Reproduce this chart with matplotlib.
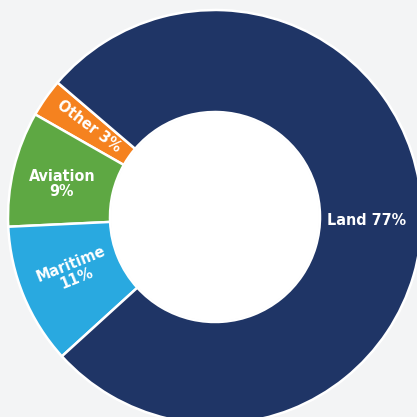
import matplotlib
matplotlib.use("Agg")
import matplotlib.pyplot as plt
from matplotlib.patches import Circle

plt.rcParams["font.family"] = ["Liberation Sans Narrow", "DejaVu Sans"]

# slices, counter-clockwise from the upper-left edge of Land
labels = ["Other", "Aviation", "Maritime", "Land"]
shares = [3, 9, 11, 77]
colors = ["#f5821f", "#5ea843", "#29a9e0", "#1f3566"]

fig = plt.figure(figsize=(4.17, 4.17), dpi=100)
fig.patch.set_facecolor("#f3f4f5")
ax = fig.add_axes([0, 0, 1, 1])
ax.set_facecolor("#f3f4f5")

ax.pie(shares, colors=colors, startangle=139.5, counterclock=True,
       center=(215, 200), radius=207, frame=True,
       wedgeprops=dict(width=102, edgecolor="white", linewidth=1.8))
ax.add_patch(Circle((215, 200), 104, facecolor="white", edgecolor="none"))

txt = dict(color="white", fontweight="bold", fontsize=11.5,
           fontstretch="condensed", ha="center", va="center",
           linespacing=1.0)
ax.text(89, 291, f"{labels[0]} {shares[0]}%", rotation=-37, **txt)
ax.text(62, 233, f"{labels[1]}\n{shares[1]}%", **txt)
ax.text(74, 146, f"{labels[2]}\n{shares[2]}%", rotation=22, **txt)
ax.text(367, 197, f"{labels[3]} {shares[3]}%", **txt)

ax.set_xlim(0, 417)
ax.set_ylim(0, 417)
ax.set_aspect("equal")
ax.axis("off")

fig.savefig("out.png", dpi=100, facecolor=fig.get_facecolor())
